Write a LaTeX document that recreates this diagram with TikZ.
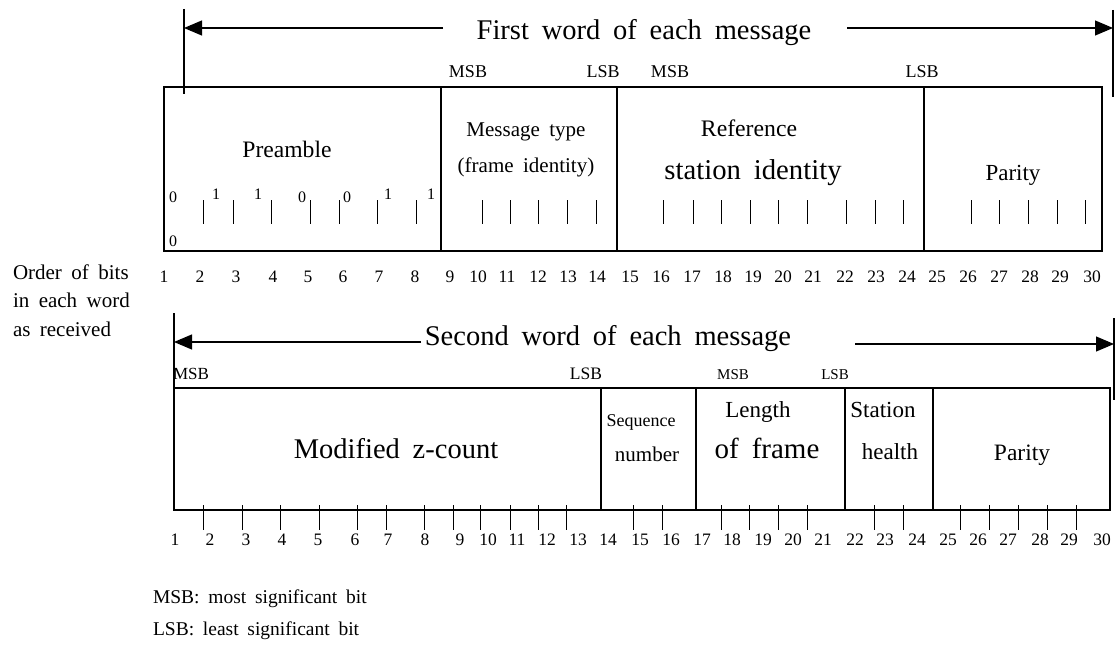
\documentclass[tikz,border=0pt]{standalone}
\usepackage{fontspec}
\setmainfont{Liberation Serif}
\usetikzlibrary{arrows.meta}
\newcommand\myfs[1]{\fontsize{#1pt}{#1pt}\selectfont\spaceskip=.45em plus .1em\relax}
\tikzset{
  lbl/.style={anchor=base, inner sep=0pt, outer sep=0pt},
  lblw/.style={anchor=base west, inner sep=0pt, outer sep=0pt},
  fld/.style={draw, line width=1.1pt, inner sep=0pt, outer sep=0pt, anchor=north west},
  tick/.style={line width=1pt},
  guide/.style={line width=1.1pt},
  arr/.style={line width=1.1pt, -{Triangle[length=18pt,width=15pt]}},
}
\begin{document}
\begin{tikzpicture}[x=1pt,y=-1pt]
\useasboundingbox (0,0) rectangle (1118,647);

% ---------------- first word ----------------
\node[lbl, font=\myfs{28.5}] (t1) at (644,40) {First word of each message};
\coordinate (t1ls) at (443,28); \coordinate (t1le) at (184,28);
\coordinate (t1rs) at (847,28); \coordinate (t1re) at (1113,28);
\draw[arr] (t1ls) -- (t1le);
\draw[arr] (t1rs) -- (t1re);
\coordinate (v1a) at (184,9);  \coordinate (v1b) at (184,94);
\coordinate (v2a) at (1113,10); \coordinate (v2b) at (1113,97);
\draw[guide] (v1a) -- (v1b);
\draw[guide] (v2a) -- (v2b);

\node[lbl, font=\myfs{18}] (m1) at (468,78) {MSB};
\node[lbl, font=\myfs{18}] (l1) at (603,78) {LSB};
\node[lbl, font=\myfs{18}] (m2) at (670,78) {MSB};
\node[lbl, font=\myfs{18}] (l2) at (922,78) {LSB};

\node[fld, minimum width=277pt, minimum height=164pt] (pre) at (164,87) {};
\node[fld, minimum width=176pt, minimum height=164pt] (msg) at (441,87) {};
\node[fld, minimum width=307pt, minimum height=164pt] (ref) at (617,87) {};
\node[fld, minimum width=178pt, minimum height=164pt] (par) at (924,87) {};

\node[lbl, font=\myfs{23.6}] (preT) at (287,158) {Preamble};
\node[lbl, font=\myfs{21}] (msgT1) at (526,137) {Message type};
\node[lbl, font=\myfs{21}] (msgT2) at (526,173) {(frame identity)};
\node[lbl, font=\myfs{23.7}] (refT1) at (749,137) {Reference};
\node[lbl, font=\myfs{28.7}] (refT2) at (753,180) {station identity};
\node[lbl, font=\myfs{23}] (parT) at (1013,181) {Parity};

% preamble bit values
\node[lbl, font=\myfs{16}] (b1) at (173,202) {0};
\node[lbl, font=\myfs{16}] (b2) at (216,200) {1};
\node[lbl, font=\myfs{16}] (b3) at (258,200) {1};
\node[lbl, font=\myfs{16}] (b4) at (302,202) {0};
\node[lbl, font=\myfs{16}] (b5) at (347,202) {0};
\node[lbl, font=\myfs{16}] (b6) at (388,200) {1};
\node[lbl, font=\myfs{16}] (b7) at (431,200) {1};
\node[lbl, font=\myfs{16}] (b8) at (173,246) {0};

\foreach \x in {203,233,271,310,339,377,416,482,510,538,567,596,663,693,721,750,778,807,846,875,903,971,999,1028,1057,1085}
  \draw[tick] (\x,200) -- (\x,224);

\foreach \x/\n in {164/1,200/2,236/3,273/4,308/5,343/6,379/7,415/8,450/9,478/10,507/11,538/12,568/13,597/14,630/15,661/16,692/17,723/18,753/19,783/20,813/21,845/22,876/23,907/24,937/25,968/26,999/27,1030/28,1060/29,1092/30}
  \node[lbl, font=\myfs{17.5}] (n1-\n) at (\x,282) {\n};

% left caption
\node[lblw, font=\myfs{21}] (c1) at (13,279) {Order of bits};
\node[lblw, font=\myfs{21}] (c2) at (13,307) {in each word};
\node[lblw, font=\myfs{21}] (c3) at (13,336) {as received};

% ---------------- second word ----------------
\node[lbl, font=\myfs{28.5}] (t2) at (608,345) {Second word of each message};
\coordinate (t2ls) at (421,342); \coordinate (t2le) at (174,342);
\coordinate (t2rs) at (855,344); \coordinate (t2re) at (1114,344);
\draw[arr] (t2ls) -- (t2le);
\draw[arr] (t2rs) -- (t2re);
\coordinate (v3a) at (174,313); \coordinate (v3b) at (174,388);
\coordinate (v4a) at (1114,318); \coordinate (v4b) at (1114,400);
\draw[guide] (v3a) -- (v3b);
\draw[guide] (v4a) -- (v4b);

\node[lbl, font=\myfs{17}] (m3) at (191,379) {MSB};
\node[lbl, font=\myfs{17.5}] (l3) at (586,379) {LSB};
\node[lbl, font=\myfs{15}] (m4) at (733,379) {MSB};
\node[lbl, font=\myfs{15}] (l4) at (835,379) {LSB};

\node[fld, minimum width=427pt, minimum height=122pt] (mz) at (174,388) {};
\node[fld, minimum width=95pt,  minimum height=122pt] (seq) at (601,388) {};
\node[fld, minimum width=149pt, minimum height=122pt] (len) at (696,388) {};
\node[fld, minimum width=88pt,  minimum height=122pt] (sta) at (845,388) {};
\node[fld, minimum width=177pt, minimum height=122pt] (par2) at (933,388) {};

\node[lbl, font=\myfs{28.5}] (mzT) at (396,458) {Modified z-count};
\node[lbl, font=\myfs{18}] (seqT1) at (641,426) {Sequence};
\node[lbl, font=\myfs{21}] (seqT2) at (647,461) {number};
\node[lbl, font=\myfs{23}] (lenT1) at (758,417) {Length};
\node[lbl, font=\myfs{29}] (lenT2) at (767,458) {of frame};
\node[lbl, font=\myfs{23}] (staT1) at (883,417) {Station};
\node[lbl, font=\myfs{23}] (staT2) at (890,459) {health};
\node[lbl, font=\myfs{23.5}] (par2T) at (1022,460) {Parity};

\foreach \x in {203,242,280,319,357,386,424,453,480,510,538,566,633,662,721,749,778,807,874,903,960,989,1018,1047,1076}
  \draw[tick] (\x,505) -- (\x,530);

\foreach \x/\n in {175/1,210/2,246/3,282/4,318/5,355/6,388/7,425/8,460/9,488/10,517/11,547/12,578/13,608/14,640/15,671/16,702/17,732/18,763/19,793/20,823/21,855/22,885/23,917/24,948/25,978/26,1008/27,1040/28,1069/29,1102/30}
  \node[lbl, font=\myfs{17.5}] (n2-\n) at (\x,545) {\n};

% legend
\node[lblw, font=\myfs{19.5}] (lg1) at (153,603) {MSB: most significant bit};
\node[lblw, font=\myfs{19.5}] (lg2) at (153,635) {LSB: least significant bit};
\end{tikzpicture}
\end{document}
